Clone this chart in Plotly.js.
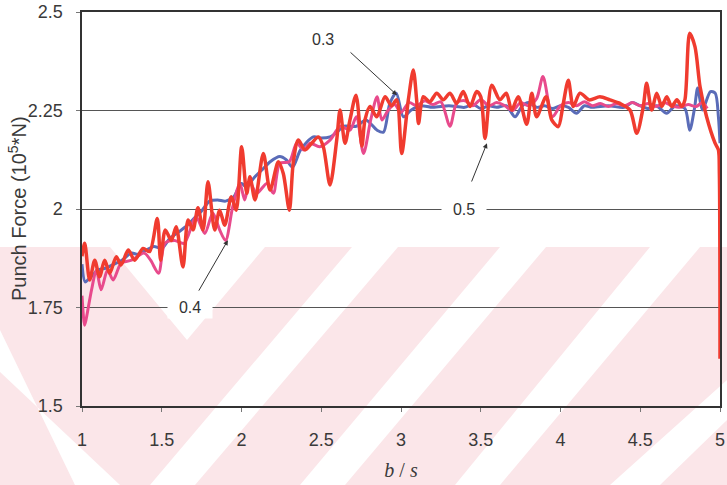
<!DOCTYPE html>
<html>
<head>
<meta charset="utf-8">
<script src="https://cdn.plot.ly/plotly-3.0.1.min.js"></script>
<style>html,body{margin:0;padding:0;background:#fff;}#chart{width:727px;height:485px;}</style>
</head>
<body>
<div id="chart"></div>
<script>
// ---- data ----
const redX = [1.000,1.017,1.048,1.080,1.110,1.142,1.174,1.215,1.245,1.290,1.330,1.383,1.424,1.472,1.493,1.522,1.560,1.590,1.633,1.665,1.696,1.727,1.759,1.790,1.832,1.863,1.895,1.936,1.967,2.001,2.033,2.053,2.085,2.137,2.179,2.231,2.262,2.300,2.325,2.356,2.398,2.440,2.482,2.513,2.555,2.597,2.618,2.649,2.680,2.718,2.755,2.774,2.806,2.848,2.900,2.940,2.973,3.004,3.046,3.077,3.098,3.110,3.140,3.180,3.224,3.265,3.307,3.349,3.390,3.433,3.474,3.500,3.527,3.569,3.620,3.660,3.694,3.735,3.788,3.820,3.850,3.910,3.945,3.986,4.015,4.049,4.080,4.122,4.180,4.247,4.310,4.373,4.436,4.478,4.519,4.540,4.572,4.603,4.635,4.666,4.697,4.730,4.760,4.780,4.810,4.843,4.875,4.916,4.969,4.990,4.996,5.000];
const redY = [1.880,1.913,1.820,1.870,1.828,1.870,1.837,1.879,1.858,1.896,1.870,1.900,1.892,1.976,1.870,1.947,1.920,1.955,1.853,1.972,1.947,2.003,1.947,2.069,1.947,1.997,1.959,2.031,1.997,2.158,2.040,2.082,2.023,2.141,2.048,2.120,2.090,1.997,2.120,2.175,2.150,2.167,2.183,2.158,2.061,2.175,2.251,2.167,2.226,2.289,2.160,2.226,2.260,2.234,2.285,2.262,2.277,2.141,2.277,2.353,2.277,2.217,2.285,2.272,2.294,2.277,2.294,2.268,2.298,2.260,2.298,2.285,2.179,2.314,2.277,2.294,2.251,2.285,2.215,2.294,2.234,2.285,2.226,2.209,2.262,2.327,2.260,2.294,2.277,2.285,2.277,2.268,2.251,2.192,2.260,2.319,2.251,2.294,2.260,2.285,2.260,2.277,2.260,2.277,2.446,2.412,2.310,2.234,2.167,2.150,2.090,1.620];

const blueX = [1.000,1.020,1.050,1.100,1.150,1.200,1.250,1.310,1.350,1.400,1.450,1.500,1.550,1.600,1.650,1.700,1.750,1.800,1.850,1.900,1.950,2.000,2.030,2.080,2.130,2.180,2.240,2.280,2.320,2.370,2.450,2.500,2.555,2.600,2.640,2.720,2.780,2.850,2.890,2.930,2.970,3.015,3.060,3.120,3.200,3.300,3.400,3.450,3.500,3.550,3.600,3.660,3.715,3.760,3.800,3.850,3.900,3.950,4.000,4.050,4.100,4.150,4.200,4.300,4.400,4.450,4.500,4.550,4.600,4.665,4.720,4.780,4.810,4.840,4.860,4.890,4.940,4.970,4.990,5.000];
const blueY = [1.860,1.815,1.825,1.845,1.850,1.860,1.870,1.888,1.885,1.895,1.905,1.900,1.925,1.940,1.955,1.975,1.995,2.020,2.023,2.020,2.030,2.065,2.056,2.080,2.100,2.120,2.133,2.125,2.106,2.150,2.183,2.180,2.183,2.195,2.210,2.210,2.226,2.200,2.195,2.268,2.294,2.234,2.250,2.262,2.258,2.262,2.258,2.266,2.255,2.262,2.258,2.262,2.234,2.262,2.270,2.258,2.262,2.255,2.262,2.258,2.243,2.262,2.258,2.262,2.258,2.270,2.262,2.255,2.262,2.243,2.262,2.255,2.200,2.255,2.307,2.251,2.298,2.294,2.234,2.167];

const pinkX = [1.000,1.017,1.035,1.060,1.090,1.120,1.160,1.195,1.245,1.310,1.390,1.430,1.480,1.520,1.580,1.640,1.715,1.770,1.820,1.863,1.900,1.945,1.990,2.020,2.050,2.095,2.160,2.200,2.240,2.300,2.346,2.390,2.430,2.490,2.555,2.620,2.680,2.720,2.765,2.810,2.850,2.880,2.920,2.960,3.000,3.050,3.100,3.150,3.200,3.250,3.307,3.350,3.400,3.450,3.500,3.550,3.600,3.650,3.700,3.750,3.800,3.850,3.890,3.950,4.000,4.050,4.100,4.150,4.200,4.250,4.300,4.350,4.400,4.450,4.500,4.550,4.600,4.650,4.700,4.750,4.800,4.850,4.890,4.920];
const pinkY = [1.780,1.705,1.740,1.795,1.845,1.795,1.845,1.820,1.862,1.870,1.888,1.870,1.837,1.913,1.920,1.913,1.980,1.938,1.990,1.947,1.920,2.006,2.065,2.023,2.070,2.040,2.065,2.040,2.116,2.120,2.167,2.150,2.167,2.158,2.175,2.210,2.200,2.234,2.141,2.226,2.285,2.226,2.251,2.265,2.245,2.270,2.262,2.275,2.265,2.272,2.210,2.270,2.275,2.262,2.278,2.262,2.270,2.262,2.250,2.270,2.262,2.280,2.336,2.234,2.262,2.270,2.262,2.272,2.262,2.268,2.260,2.268,2.262,2.270,2.262,2.268,2.260,2.270,2.262,2.258,2.265,2.260,2.270,2.255];

const xTicks = [1, 1.5, 2, 2.5, 3, 3.5, 4, 4.5, 5];
const xTickText = ['1','1.5','2','2.5','3','3.5','4','4.5','5'];
const yTicks = [1.5, 1.75, 2, 2.25, 2.5];
const yTickText = ['1.5','1.75','2','2.25','2.5'];

const labels = ['0.3', '0.5', '0.4'];

// ---- layout geometry ----
const W = 727, H = 485;
const M = {l: 82, r: 7, t: 12, b: 79};
const pw = W - M.l - M.r, ph = H - M.t - M.b;
function px(X){ return (X - M.l) / pw; }
function py(Y){ return (H - M.b - Y) / ph; }
function poly(pts){ return 'M' + pts.map(p => px(p[0]).toFixed(4) + ',' + py(p[1]).toFixed(4)).join(' L') + ' Z'; }

// background watermark (decoration)
const pink = 'rgba(250,222,226,0.75)';
const shapes = [
  {type:'rect', xref:'paper', yref:'paper', x0:px(0), x1:px(W), y0:py(485), y1:py(247), fillcolor:pink, line:{width:0}, layer:'below'},
];
const whites = [
  [[110,247],[265,247],[187,340]],
  [[0,330],[0,372],[120,485],[75,485]],
  [[352,247],[398,247],[195,485],[150,485]],
  [[500,247],[546,247],[345,485],[300,485]],
  [[650,247],[700,247],[500,485],[455,485]],
  [[727,380],[727,420],[660,485],[610,485]]
];
whites.forEach(w => shapes.push({type:'path', xref:'paper', yref:'paper', path:poly(w), fillcolor:'#ffffff', line:{width:0}, layer:'below'}));

const traces = [
  {x: blueX, y: blueY, mode:'lines', line:{color:'#5a6cb8', width:3, shape:'spline', smoothing:0.8}, name:labels[0]},
  {x: pinkX, y: pinkY, mode:'lines', line:{color:'#e84a8c', width:3, shape:'spline', smoothing:0.8}, name:labels[2]},
  {x: redX, y: redY, mode:'lines', line:{color:'#f03b2f', width:3.5, shape:'spline', smoothing:0.8}, name:labels[1]}
];

const tickFont = {family:'Liberation Sans, Arial, sans-serif', size:18, color:'#3a3a3a'};
const annFont = {family:'Liberation Sans, Arial, sans-serif', size:16, color:'#333'};

const layout = {
  width: W, height: H,
  margin: M,
  paper_bgcolor:'#ffffff',
  plot_bgcolor:'rgba(0,0,0,0)',
  showlegend:false,
  shapes: shapes,
  xaxis: {
    range:[1,5], tickvals:xTicks, ticktext:xTickText, tickfont:tickFont,
    ticks:'outside', ticklen:4, tickcolor:'#777', ticklabelstandoff:13,
    showgrid:false, zeroline:false, showline:true, mirror:true, linecolor:'#333', linewidth:1.6,
    title:{text:'<i>b</i> / <i>s</i>', font:{family:'Liberation Serif, Times New Roman, serif', size:20, color:'#3a3a3a'}, standoff:14}
  },
  yaxis: {
    range:[1.5,2.5], tickvals:yTicks, ticktext:yTickText, tickfont:tickFont,
    ticks:'outside', ticklen:4, tickcolor:'#777', ticklabelstandoff:10,
    showgrid:true, gridcolor:'#555', gridwidth:1,
    zeroline:false, showline:true, mirror:true, linecolor:'#333', linewidth:1.6
  },
  annotations: [
    {xref:'paper', yref:'paper', x:px(17), y:py(209), xanchor:'center', yanchor:'middle', text:'Punch Force (10<sup>5</sup>*N)', textangle:-90, showarrow:false, font:{family:'Liberation Sans, Arial, sans-serif', size:20, color:'#3a3a3a'}},
    {x:2.511, y:2.429, text:labels[0], showarrow:false, font:annFont},
    {x:2.975, y:2.289, ax:2.674, ay:2.401, axref:'x', ayref:'y', text:'', showarrow:true, arrowhead:2, arrowsize:1, arrowwidth:1, arrowcolor:'#333'},
    {x:3.395, y:2.0, text:'&nbsp;&nbsp;' + labels[1] + '&nbsp;&nbsp;', showarrow:false, font:annFont, bgcolor:'#ffffff', borderpad:2},
    {x:3.539, y:2.167, ax:3.439, ay:2.066, axref:'x', ayref:'y', text:'', showarrow:true, arrowhead:2, arrowsize:1, arrowwidth:1, arrowcolor:'#333'},
    {x:1.677, y:1.75, text:'&nbsp;&nbsp;' + labels[2] + '&nbsp;&nbsp;', showarrow:false, font:annFont, bgcolor:'#ffffff', borderpad:2},
    {x:1.915, y:1.921, ax:1.727, ay:1.789, axref:'x', ayref:'y', text:'', showarrow:true, arrowhead:2, arrowsize:1, arrowwidth:1, arrowcolor:'#333'}
  ]
};

Plotly.newPlot('chart', traces, layout, {staticPlot:true, displayModeBar:false});
</script>
</body>
</html>
